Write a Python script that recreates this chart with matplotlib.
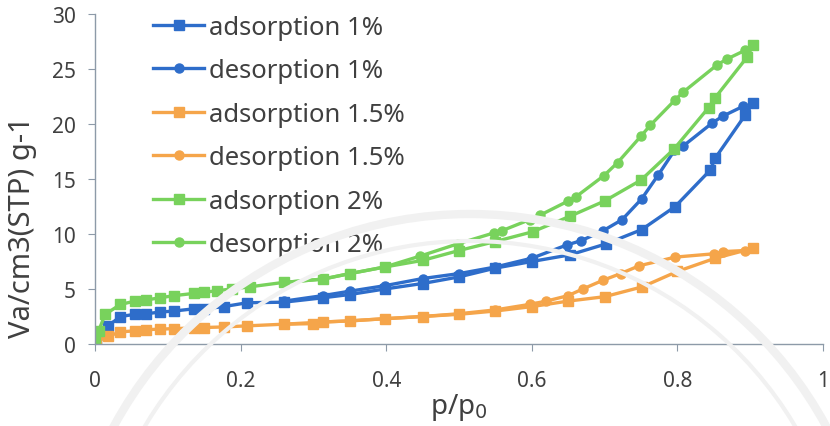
import matplotlib
matplotlib.use("Agg")
import matplotlib.pyplot as plt
from matplotlib.patches import Arc

plt.rcParams['font.family'] = ['Noto Sans', 'DejaVu Sans']

# isotherm data (relative pressure vs adsorbed volume)
ads_1_x = [0.001, 0.005, 0.018, 0.035, 0.055, 0.07, 0.089, 0.109, 0.136, 0.15, 0.177, 0.209,
           0.259, 0.313, 0.35, 0.398, 0.45, 0.5, 0.55, 0.6, 0.652, 0.702, 0.751, 0.797,
           0.845, 0.852, 0.893, 0.904]
ads_1_y = [0.3, 0.9, 1.65, 2.5, 2.7, 2.75, 2.9, 3.0, 3.2, 3.2, 3.4, 3.75,
           3.8, 4.2, 4.5, 5.0, 5.5, 6.1, 6.9, 7.5, 8.1, 9.1, 10.4, 12.5,
           15.8, 16.9, 20.8, 21.9]

des_1_x = [0.26, 0.313, 0.35, 0.398, 0.45, 0.5, 0.55, 0.6, 0.648, 0.668, 0.698, 0.724,
           0.751, 0.774, 0.796, 0.808, 0.848, 0.862, 0.89]
des_1_y = [3.9, 4.4, 4.8, 5.3, 5.95, 6.4, 7.0, 7.8, 9.0, 9.4, 10.3, 11.3,
           13.2, 15.4, 17.6, 18.0, 20.1, 20.7, 21.6]

ads_15_x = [0.001, 0.018, 0.035, 0.055, 0.07, 0.089, 0.109, 0.136, 0.15, 0.177, 0.209,
            0.259, 0.30, 0.313, 0.35, 0.398, 0.45, 0.5, 0.55, 0.6, 0.65, 0.7, 0.752,
            0.8, 0.852, 0.904]
ads_15_y = [0.2, 0.7, 1.1, 1.2, 1.3, 1.35, 1.4, 1.45, 1.5, 1.55, 1.65,
            1.8, 1.85, 2.0, 2.1, 2.3, 2.5, 2.7, 3.0, 3.4, 3.9, 4.3, 5.2,
            6.6, 7.8, 8.7]

des_15_x = [0.26, 0.313, 0.35, 0.398, 0.45, 0.5, 0.55, 0.597, 0.62, 0.65, 0.67, 0.698,
            0.722, 0.747, 0.797, 0.85, 0.863, 0.893]
des_15_y = [1.8, 2.0, 2.1, 2.3, 2.5, 2.75, 3.1, 3.6, 3.9, 4.4, 5.0, 5.8,
            6.4, 7.1, 7.9, 8.2, 8.4, 8.5]

ads_2_x = [0.0, 0.005, 0.014, 0.035, 0.055, 0.07, 0.089, 0.109, 0.136, 0.15, 0.168, 0.188,
           0.213, 0.259, 0.313, 0.35, 0.398, 0.45, 0.5, 0.549, 0.601, 0.652, 0.7, 0.75,
           0.795, 0.843, 0.852, 0.896, 0.904]
ads_2_y = [0.5, 1.2, 2.7, 3.6, 3.9, 4.0, 4.2, 4.4, 4.6, 4.7, 4.85, 5.0,
           5.2, 5.6, 5.9, 6.4, 7.0, 7.6, 8.5, 9.3, 10.2, 11.6, 13.0, 14.9,
           17.7, 21.5, 22.4, 26.1, 27.2]

des_2_x = [0.26, 0.313, 0.35, 0.398, 0.447, 0.498, 0.548, 0.559, 0.597, 0.611, 0.65, 0.661,
           0.699, 0.718, 0.75, 0.763, 0.797, 0.808, 0.855, 0.868, 0.893]
des_2_y = [5.6, 5.9, 6.4, 7.0, 8.0, 9.1, 10.1, 10.3, 11.3, 11.7, 13.0, 13.4,
           15.3, 16.5, 18.9, 19.9, 22.2, 22.9, 25.4, 25.9, 26.7]

x_ticks = [0, 0.2, 0.4, 0.6, 0.8, 1]
x_tick_labels = ['0', '0.2', '0.4', '0.6', '0.8', '1']
y_ticks = [0, 5, 10, 15, 20, 25, 30]

blue = '#2e6dca'
orange = '#f5a54a'
green = '#78d25c'

fig = plt.figure(figsize=(8.3, 4.27), dpi=100)

# faint seal arcs in the background
for r, lw in [(405, 6), (378, 3)]:
    arc = Arc((470 / 830, -193 / 427), 2 * r / 830, 2 * r / 427, theta1=15, theta2=165,
              transform=fig.transFigure, color='#f1f1f1', lw=lw, zorder=0)
    fig.patches.append(arc)

ax = fig.add_axes([95 / 830, 82 / 427, 728 / 830, 330 / 427])
ax.set_facecolor('none')

series = [
    (ads_1_x, ads_1_y, blue, 's', 'adsorption 1%'),
    (des_1_x, des_1_y, blue, 'o', 'desorption 1%'),
    (ads_15_x, ads_15_y, orange, 's', 'adsorption 1.5%'),
    (des_15_x, des_15_y, orange, 'o', 'desorption 1.5%'),
    (ads_2_x, ads_2_y, green, 's', 'adsorption 2%'),
    (des_2_x, des_2_y, green, 'o', 'desorption 2%'),
]
for xs, ys, c, m, lab in series:
    ax.plot(xs, ys, color=c, marker=m, markersize=6.5, lw=2.4, label=lab)

ax.set_xlim(0, 1)
ax.set_ylim(0, 30)
ax.set_xticks(x_ticks)
ax.set_xticklabels(x_tick_labels)
ax.set_yticks(y_ticks)
for s in ['top', 'right']:
    ax.spines[s].set_visible(False)
for s in ['left', 'bottom']:
    ax.spines[s].set_color('#8d9aa8')
    ax.spines[s].set_linewidth(1)
ax.tick_params(direction='out', length=5, color='#8d9aa8', labelsize=15,
               labelcolor='#404040')
ax.tick_params(axis='x', pad=14)
ax.tick_params(axis='y', pad=9)

ax.set_xlabel('p/p$_0$', fontsize=20, color='#404040', labelpad=0)
ax.set_ylabel('Va/cm3(STP) g-1', fontsize=21, color='#404040', va='center')
ax.yaxis.set_label_coords(-0.1, 0.357)

ax.legend(loc='upper left', bbox_to_anchor=(140 / 830, 1 - 3 / 427),
          bbox_transform=fig.transFigure, frameon=False, fontsize=18.5,
          handlelength=2.0, handletextpad=0.2, labelspacing=0.72,
          borderpad=0, numpoints=1, labelcolor='#404040')

plt.savefig('out.png', dpi=100)
